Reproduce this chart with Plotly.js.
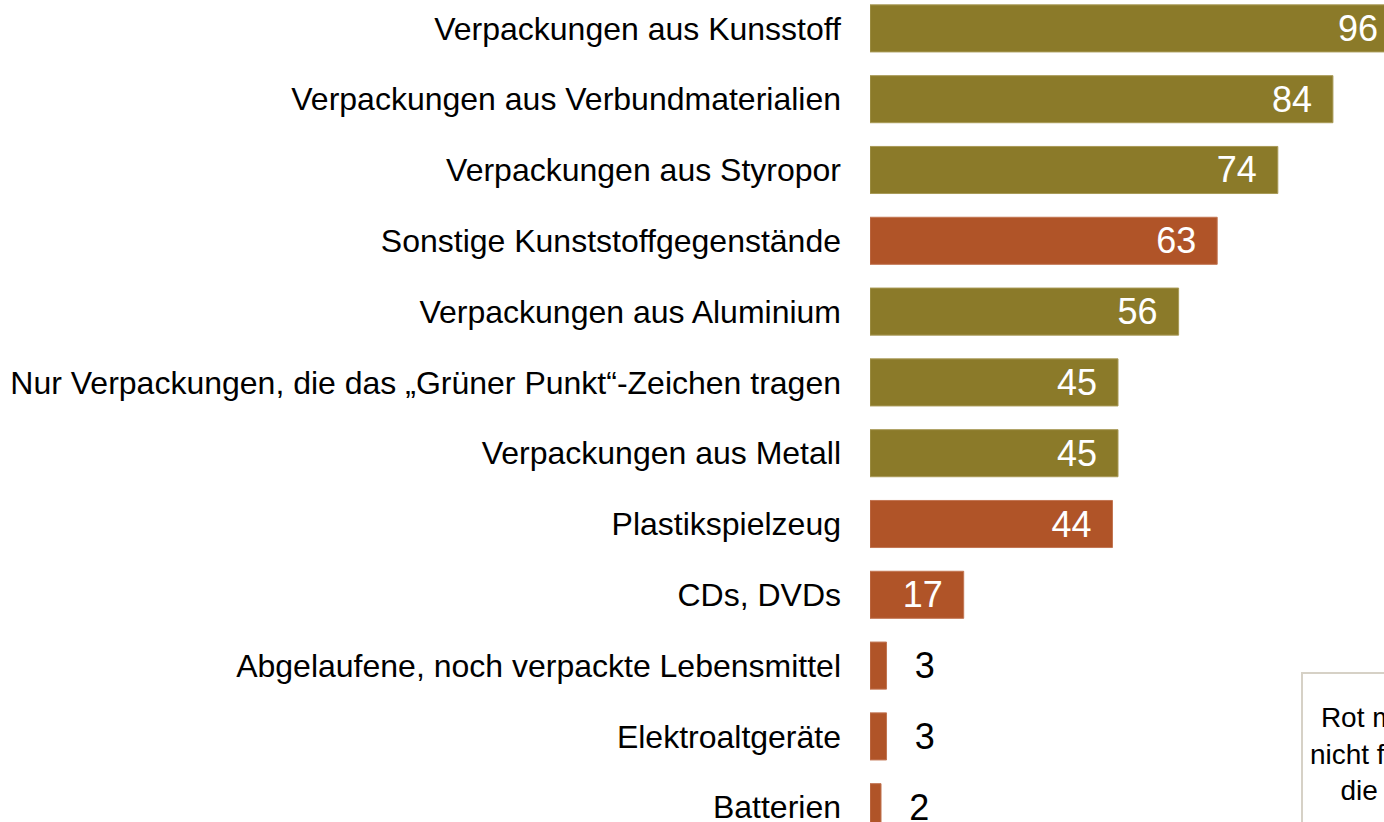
<!DOCTYPE html>
<html>
<head>
<meta charset="utf-8">
<script src="https://cdn.plot.ly/plotly-3.0.1.min.js"></script>
<style>
html, body { margin: 0; padding: 0; overflow: hidden; background: #fff; width: 1384px; height: 822px; }
#chart { width: 1420px; height: 900px; }
</style>
</head>
<body>
<div id="chart"></div>
<script>
const categories = [
  "Verpackungen aus Kunsstoff",
  "Verpackungen aus Verbundmaterialien",
  "Verpackungen aus Styropor",
  "Sonstige Kunststoffgegenstände",
  "Verpackungen aus Aluminium",
  "Nur Verpackungen, die das „Grüner Punkt“-Zeichen tragen",
  "Verpackungen aus Metall",
  "Plastikspielzeug",
  "CDs, DVDs",
  "Abgelaufene, noch verpackte Lebensmittel",
  "Elektroaltgeräte",
  "Batterien"
];
const values = [96, 84, 74, 63, 56, 45, 45, 44, 17, 3, 3, 2];
// true = red-marked (not for the yellow bin)
const redMarked = [false, false, false, true, false, false, false, true, true, true, true, true];
const noteText = "Rot markiert:<br>nicht für Gelbe<br>die Tonne";

const OLIVE = "#8b7a29";
const RED = "#b05428";

const inside = values.map(v => v >= 10);
const labels = values.map((v, i) => inside[i] ? v + "\u2002" : "\u2002\u2009" + v);

const trace = {
  type: "bar",
  orientation: "h",
  y: categories,
  x: values,
  width: 0.665,
  marker: {
    color: redMarked.map(r => r ? RED : OLIVE),
    line: { color: redMarked.map(r => r ? "#c27552" : "#a89a57"), width: 1 }
  },
  text: labels,
  textposition: inside.map(b => b ? "inside" : "outside"),
  insidetextanchor: "end",
  constraintext: "none",
  cliponaxis: false,
  textfont: { family: "Liberation Sans, Arial, sans-serif", size: 36, color: inside.map(b => b ? "#ffffff" : "#000000") },
  hoverinfo: "none"
};

const layout = {
  width: 1420,
  height: 900,
  margin: { l: 870, r: 0, t: 0, b: 78 },
  paper_bgcolor: "#ffffff",
  plot_bgcolor: "#ffffff",
  showlegend: false,
  font: { family: "Liberation Sans, Arial, sans-serif", color: "#000000" },
  xaxis: {
    range: [0, 99.8],
    visible: false,
    fixedrange: true
  },
  yaxis: {
    type: "category",
    range: [11.209, -0.401],
    showgrid: false,
    zeroline: false,
    showline: false,
    ticks: "",
    ticklabelstandoff: 28,
    tickfont: { family: "Liberation Sans, Arial, sans-serif", size: 32, color: "#000000" },
    fixedrange: true
  },
  annotations: [{
    xref: "paper", yref: "paper",
    x: (1301 - 870) / 550, y: 1 - 672 / 822,
    xanchor: "left", yanchor: "top",
    text: noteText,
    showarrow: false,
    align: "center",
    valign: "middle",
    width: 180,
    height: 144,
    borderpad: 8,
    bordercolor: "#d6d1c6",
    borderwidth: 2,
    bgcolor: "#ffffff",
    font: { family: "Liberation Sans, Arial, sans-serif", size: 28, color: "#000000" }
  }]
};

Plotly.newPlot("chart", [trace], layout, { displayModeBar: false, staticPlot: true });
</script>
</body>
</html>
